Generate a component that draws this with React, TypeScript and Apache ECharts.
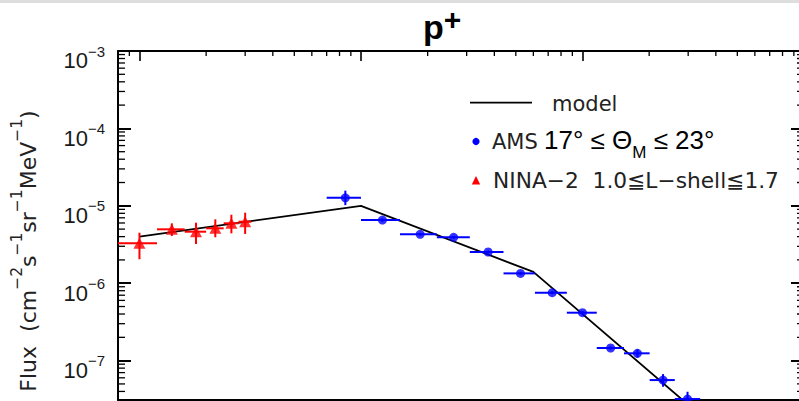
import React, { useEffect, useRef } from 'react';
import * as echarts from 'echarts';

// ---- data (energies in MeV, flux in cm^-2 s^-1 sr^-1 MeV^-1) ----
const modelEnergy = [10, 100, 600, 10000];
const modelFlux = [4.0e-6, 1.0e-5, 1.4e-6, 1.4e-9];

const ninaEnergy = [10, 14, 18, 22, 26, 30];
const ninaEnergyLow = [7.5, 12, 16, 20, 24, 28];
const ninaEnergyHigh = [12, 16, 20, 24, 28, 32];
const ninaFlux = [3.28e-6, 4.97e-6, 4.63e-6, 5.12e-6, 5.94e-6, 6.23e-6];
const ninaFluxLow = [2.04e-6, 4.07e-6, 3.21e-6, 3.92e-6, 4.41e-6, 4.33e-6];
const ninaFluxHigh = [4.49e-6, 5.94e-6, 6.05e-6, 6.69e-6, 7.67e-6, 8.15e-6];

const amsEnergy = [85, 125, 185, 262, 375, 525, 730, 1000, 1340, 1770, 2310, 2980];
const amsEnergyLow = [70, 100, 150, 220, 310, 440, 610, 850, 1160, 1540, 2010, 2610];
const amsEnergyHigh = [100, 150, 220, 310, 440, 610, 850, 1160, 1540, 2010, 2610, 3400];
const amsFlux = [1.27e-5, 6.55e-6, 4.28e-6, 3.92e-6, 2.53e-6, 1.34e-6, 7.54e-7, 4.16e-7, 1.455e-7, 1.243e-7, 5.61e-8, 3.19e-8];
const amsFluxLow = [1.02e-5, 6.2e-6, 4.1e-6, 3.75e-6, 2.42e-6, 1.28e-6, 7.2e-7, 3.95e-7, 1.38e-7, 1.09e-7, 4.6e-8, 2.5e-8];
const amsFluxHigh = [1.57e-5, 6.9e-6, 4.46e-6, 4.1e-6, 2.64e-6, 1.4e-6, 7.9e-7, 4.38e-7, 1.53e-7, 1.4e-7, 6.7e-8, 3.96e-8];

// axis ranges
const xMin = 8;
const xMax = 10000;
const yMin = 3.1e-8;
const yMax = 1e-3;

const BLUE = '#0000ff';
const RED = '#ff0000';

function decadeExponent(v: number): number | null {
  const e = Math.log10(v);
  const r = Math.round(e);
  return Math.abs(e - r) > 1e-6 ? null : r;
}

function minorTicks() {
  const out: number[][] = [];
  for (let n = 0; n <= 3; n++) {
    for (let k = 2; k <= 9; k++) {
      const v = k * Math.pow(10, n);
      if (v > xMin && v < xMax) out.push([v, yMax, 0]);
    }
  }
  for (let n = -8; n <= -4; n++) {
    for (let k = 2; k <= 9; k++) {
      const v = k * Math.pow(10, n);
      if (v > yMin && v < yMax) {
        out.push([xMin, v, 1]);
        out.push([xMax, v, 2]);
      }
    }
  }
  return out;
}

function errorBarSeries(name: string, color: string, e: number[], el: number[], eh: number[], f: number[], fl: number[], fh: number[]) {
  return {
    type: 'custom',
    name,
    clip: true,
    silent: true,
    z: 3,
    encode: { x: 0, y: 1 },
    data: e.map((v, i) => [v, f[i], el[i], eh[i], fl[i], fh[i]]),
    renderItem: (params: any, api: any) => {
      const x = api.value(0);
      const y = api.value(1);
      const a = api.coord([api.value(2), y]);
      const b = api.coord([api.value(3), y]);
      const c = api.coord([x, api.value(4)]);
      const d = api.coord([x, api.value(5)]);
      return {
        type: 'group',
        children: [
          { type: 'line', shape: { x1: a[0], y1: a[1], x2: b[0], y2: b[1] }, style: { stroke: color, lineWidth: 2 } },
          { type: 'line', shape: { x1: c[0], y1: c[1], x2: d[0], y2: d[1] }, style: { stroke: color, lineWidth: 2 } },
        ],
      };
    },
  };
}

export default function App() {
  const ref = useRef<HTMLDivElement>(null);
  useEffect(() => {
    if (!ref.current) return;
    const chart = echarts.init(ref.current, undefined, { renderer: 'svg' });
    const axisLine = { show: true, lineStyle: { color: '#000', width: 2 } };
    const option: any = {
      animation: false,
      backgroundColor: '#fff',
      grid: { left: 118, top: 51, right: -5, bottom: 1, outerBoundsMode: 'none' },
      xAxis: [
        {
          type: 'log', logBase: 10, min: xMin, max: xMax, position: 'bottom',
          axisLine, axisTick: { show: false }, axisLabel: { show: false }, splitLine: { show: false },
        },
        {
          type: 'log', logBase: 10, min: xMin, max: xMax, position: 'top',
          axisLine, axisTick: { show: true, inside: true, length: 10, lineStyle: { color: '#000', width: 1.6 } },
          axisLabel: { show: false }, splitLine: { show: false },
        },
      ],
      yAxis: [
        {
          // main left axis: "10" part of the decade labels
          type: 'log', logBase: 10, min: yMin, max: yMax, position: 'left',
          axisLine, axisTick: { show: true, inside: true, length: 13, lineStyle: { color: '#000', width: 2 } },
          splitLine: { show: false },
          axisLabel: {
            margin: 30,
            fontSize: 22,
            fontFamily: 'Liberation Sans',
            color: '#1a1a1a',
            verticalAlign: 'top',
            lineHeight: 19.6,
            formatter: (v: number) => (decadeExponent(v) === null ? '' : '10'),
          },
        },
        {
          type: 'log', logBase: 10, min: yMin, max: yMax, position: 'right',
          axisLine, axisTick: { show: true, inside: true, length: 13, lineStyle: { color: '#000', width: 2 } },
          axisLabel: { show: false }, splitLine: { show: false },
        },
        {
          // exponent part of the decade labels
          type: 'log', logBase: 10, min: yMin, max: yMax, position: 'left',
          axisLine: { show: false }, axisTick: { show: false }, splitLine: { show: false },
          axisLabel: {
            margin: 13,
            fontSize: 15,
            fontFamily: 'Liberation Sans',
            color: '#1a1a1a',
            verticalAlign: 'middle',
            lineHeight: 14,
            formatter: (v: number) => {
              const r = decadeExponent(v);
              return r === null ? '' : '\u2212' + Math.abs(r);
            },
          },
        },
      ],
      series: [
        {
          type: 'custom',
          name: 'minor ticks',
          silent: true,
          clip: false,
          z: 5,
          encode: { x: 0, y: 1 },
          data: minorTicks(),
          renderItem: (params: any, api: any) => {
            const kind = api.value(2);
            const p = api.coord([api.value(0), api.value(1)]);
            let shape;
            if (kind === 0) shape = { x1: p[0], y1: p[1], x2: p[0], y2: p[1] + 5 };
            else if (kind === 1) shape = { x1: p[0], y1: p[1], x2: p[0] + 7, y2: p[1] };
            else shape = { x1: p[0], y1: p[1], x2: p[0] - 7, y2: p[1] };
            return { type: 'line', shape, style: { stroke: '#000', lineWidth: 1.3 } };
          },
        },
        {
          type: 'line',
          name: 'model',
          data: modelEnergy.map((e, i) => [e, modelFlux[i]]),
          symbol: 'none',
          lineStyle: { color: '#000', width: 1.8 },
          z: 2,
          silent: true,
        },
        errorBarSeries('NINA-2 err', RED, ninaEnergy, ninaEnergyLow, ninaEnergyHigh, ninaFlux, ninaFluxLow, ninaFluxHigh),
        errorBarSeries('AMS err', BLUE, amsEnergy, amsEnergyLow, amsEnergyHigh, amsFlux, amsFluxLow, amsFluxHigh),
        {
          type: 'scatter',
          name: 'NINA-2',
          data: ninaEnergy.map((e, i) => [e, ninaFlux[i]]),
          symbol: 'triangle',
          symbolSize: [12, 11],
          itemStyle: { color: RED },
          z: 4,
          silent: true,
        },
        {
          type: 'scatter',
          name: 'AMS',
          data: amsEnergy.map((e, i) => [e, amsFlux[i]]),
          symbol: 'circle',
          symbolSize: 9,
          itemStyle: { color: BLUE },
          z: 4,
          silent: true,
        },
      ],
      graphic: [
        { type: 'rect', shape: { x: 0, y: 0, width: 799, height: 3 }, style: { fill: '#dedede' }, silent: true },
        {
          type: 'text', x: 423, y: 4,
          style: {
            text: '{p|p}{s|+}', align: 'left', verticalAlign: 'top',
            rich: {
              p: { fontSize: 34, fontWeight: 'bold', fontFamily: 'Liberation Sans', fill: '#000', lineHeight: 40, verticalAlign: 'bottom' },
              s: { fontSize: 30, fontWeight: 'bold', fontFamily: 'Liberation Sans', fill: '#000', lineHeight: 26, verticalAlign: 'top' },
            },
          },
        },
        {
          type: 'text', x: 24.3, y: 251, rotation: Math.PI / 2,
          style: {
            text: '{n|Flux  (cm}{s|\u22122}{n|s}{s|\u22121}{n|sr}{s|\u22121}{n|MeV}{s|\u22121}{n|)}',
            align: 'center', verticalAlign: 'middle',
            rich: {
              n: { fontSize: 22, fontFamily: 'DejaVu Sans', fill: '#222', lineHeight: 30, verticalAlign: 'bottom' },
              s: { fontSize: 15.5, fontFamily: 'DejaVu Sans', fill: '#222', lineHeight: 15, verticalAlign: 'top' },
            },
          },
        },
        // legend
        { type: 'line', shape: { x1: 470, y1: 102.7, x2: 532, y2: 102.7 }, style: { stroke: '#000', lineWidth: 1.8 } },
        { type: 'text', x: 552, y: 103.6, style: { text: 'model', fontSize: 21, fontFamily: 'DejaVu Sans', fill: '#222', align: 'left', verticalAlign: 'middle' } },
        { type: 'circle', shape: { cx: 476, cy: 141.5, r: 3.6 }, style: { fill: BLUE } },
        { type: 'text', x: 492, y: 141.6, style: { text: 'AMS', fontSize: 21, fontFamily: 'DejaVu Sans', fill: '#222', align: 'left', verticalAlign: 'middle' } },
        {
          type: 'text', x: 544, y: 126.5,
          style: {
            text: '{b|17° ≤ Θ}{m|M}{b| ≤ 23°}', align: 'left', verticalAlign: 'top',
            rich: {
              b: { fontSize: 26, fontFamily: 'Liberation Sans', fill: '#000', lineHeight: 26, verticalAlign: 'top' },
              m: { fontSize: 17, fontFamily: 'Liberation Sans', fill: '#000', lineHeight: 17, verticalAlign: 'top', padding: [17, 0, 0, 0] },
            },
          },
        },
        { type: 'polygon', shape: { points: [[476, 176], [480.2, 184.5], [471.8, 184.5]] }, style: { fill: RED } },
        { type: 'text', x: 493, y: 180.6, scaleX: 1.035, style: { text: 'NINA\u22122  1.0\u2266L\u2212shell\u22661.7', fontSize: 21, fontFamily: 'DejaVu Sans', fill: '#222', align: 'left', verticalAlign: 'middle' } },
      ],
    };
    chart.setOption(option);
    return () => chart.dispose();
  }, []);
  return <div ref={ref} style={{ position: 'fixed', left: 0, top: 0, width: 799, height: 401 }} />;
}
